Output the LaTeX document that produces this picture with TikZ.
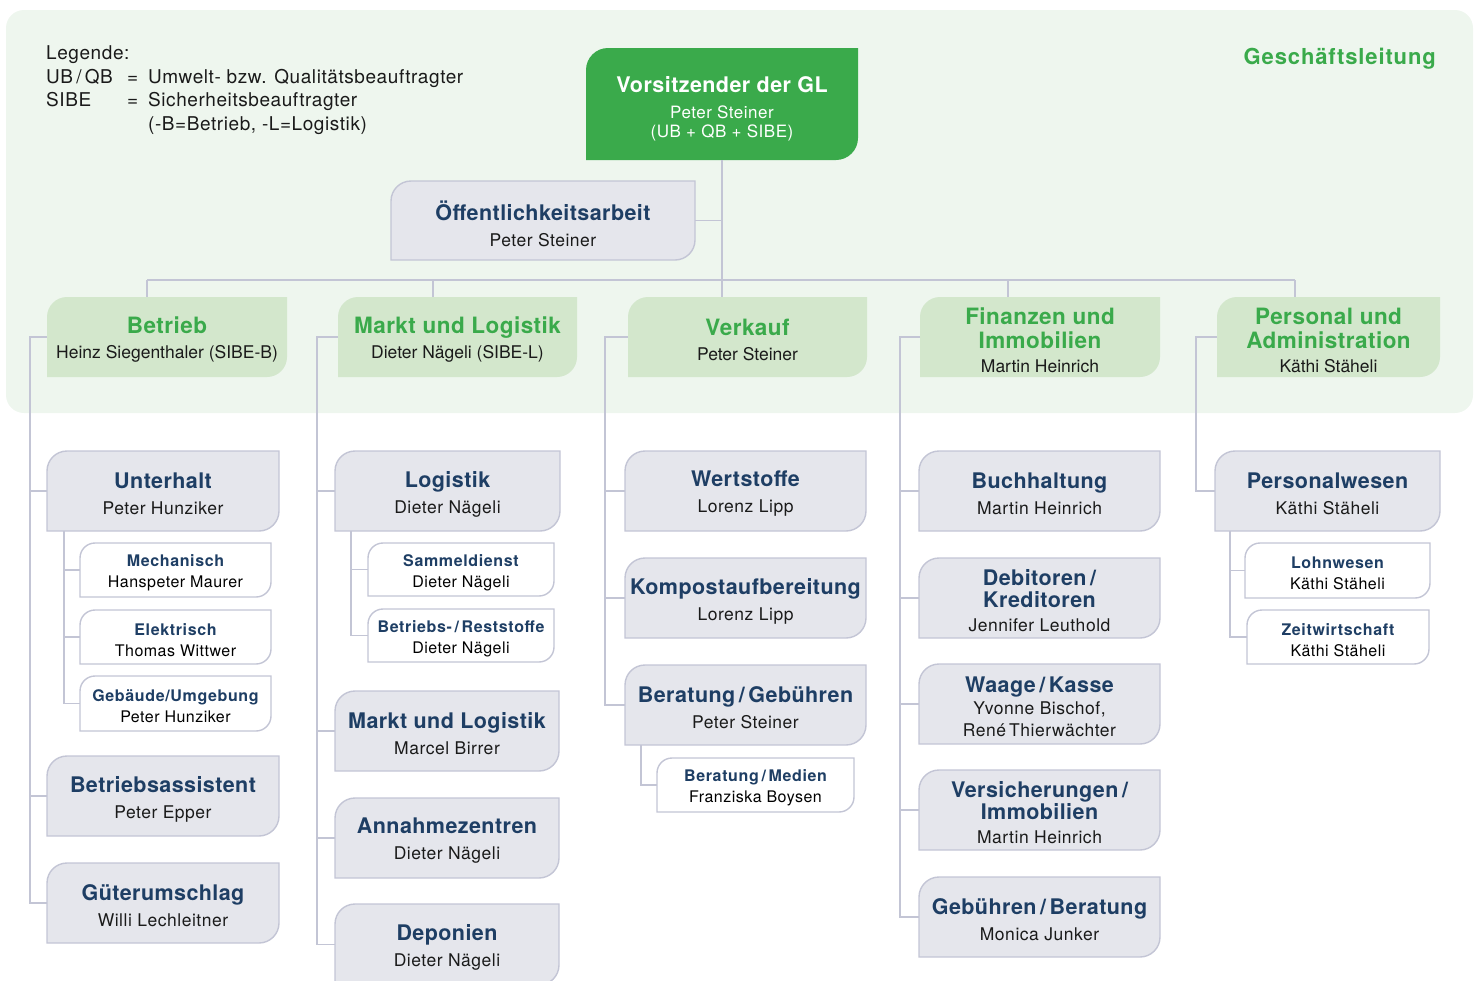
\documentclass[tikz,border=0pt]{standalone}
\usepackage{fontspec}
\setmainfont{TeX Gyre Heros}
\newfontfamily\nmf{TeX Gyre Heros}[LetterSpace=3]
\newfontfamily\ttf{TeX Gyre Heros}[LetterSpace=2]
\newfontfamily\stf{TeX Gyre Heros}[LetterSpace=4]
\definecolor{bgG}{HTML}{EEF6EE}
\definecolor{topG}{HTML}{3AAA4B}
\definecolor{deptF}{HTML}{D3E7CC}
\definecolor{grayF}{HTML}{E5E6EC}
\definecolor{lineC}{HTML}{C3C5D5}
\definecolor{tblue}{HTML}{1E3E64}
\definecolor{nameC}{HTML}{1A1A1A}
\pgfdeclarelayer{back}
\pgfdeclarelayer{bg}
\pgfsetlayers{back,bg,main}
\newcommand\BT[1]{{\ttf\bfseries\fontsize{21.5}{23}\selectfont\color{tblue}#1}}
\newcommand\NM[1]{{\nmf\color{nameC}#1}}
\newcommand\ST[1]{{\stf\bfseries\fontsize{16}{21}\selectfont\color{tblue}#1}}
\newcommand\DT[1]{{\ttf\bfseries\fontsize{22.5}{24}\selectfont\color{topG}#1}}
\newcommand\DN[1]{{\color{nameC}#1}}
\tikzset{
  conn/.style={draw=lineC, line width=1.8pt},
  boxtext/.style={inner sep=0pt, outer sep=0pt, align=center},
  gray shape/.style={fill=grayF, draw=lineC, line width=1.4pt},
  gray text/.style={boxtext, yshift=-3pt, font=\fontsize{17.5}{23}\selectfont},
  sub shape/.style={fill=white, draw=lineC, line width=1.4pt},
  sub text/.style={boxtext, yshift=-3pt, font=\nmf\fontsize{16}{21}\selectfont},
  dept shape/.style={fill=deptF},
  dept text/.style={boxtext, yshift=-3pt, font=\fontsize{17.5}{24}\selectfont},
  top shape/.style={fill=topG},
  top text/.style={boxtext, yshift=-5pt, text=white, font=\nmf\fontsize{17}{19}\selectfont},
}
% #1 type, #2 name, #3 x1, #4 y1, #5 x2, #6 y2, #7 radius, #8 text
\newcommand\obox[8]{%
  \node[inner sep=0pt, outer sep=0pt, minimum width={(#5-#3)*1pt}, minimum height={(#6-#4)*1pt}] (#2) at ({(#3+#5)/2},{(#4+#6)/2}) {};
  \node[#1 text] (#2-t) at (#2.center) {#8};
  \begin{pgfonlayer}{bg}
  \path[#1 shape] (#2.south west) -- ([yshift=-#7pt]#2.north west)
     .. controls ([yshift={-0.448*#7pt}]#2.north west) and ([xshift={0.448*#7pt}]#2.north west) .. ([xshift=#7pt]#2.north west)
     -- (#2.north east) -- ([yshift=#7pt]#2.south east)
     .. controls ([yshift={0.448*#7pt}]#2.south east) and ([xshift={-0.448*#7pt}]#2.south east) .. ([xshift=-#7pt]#2.south east)
     -- cycle;
  \end{pgfonlayer}}
\begin{document}
\begin{tikzpicture}[x=1pt, y=-1pt]
\useasboundingbox (0,0) rectangle (1477,980);
\begin{pgfonlayer}{back}
  \fill[bgG, rounded corners=18pt] (6,10) rectangle (1473,413);
\end{pgfonlayer}

% legend and heading
\node[anchor=north west, inner sep=0pt, font=\nmf\fontsize{19}{23.5}\selectfont, text=nameC] (legend) at (46,43)
 {\begin{tabular}{@{}p{81pt}@{}p{21pt}@{}l@{}}
  \multicolumn{3}{@{}l@{}}{Legende:}\\
  UB\,/\,QB & = & Umwelt- bzw. Qualitätsbeauftragter\\
  SIBE & = & Sicherheitsbeauftragter\\
   & & (-B=Betrieb, -L=Logistik)
  \end{tabular}};
\node[anchor=base east, inner sep=0pt, text=topG, font=\stf\bfseries\fontsize{22}{24}\selectfont] (gl) at (1436,64) {Geschäftsleitung};

% top
\obox{top}{top}{586}{48}{858}{160}{22}{{\ttf\bfseries\fontsize{21.5}{23}\selectfont Vorsitzender der GL}\\[7pt]Peter Steiner\\(UB + QB + SIBE)}
\obox{gray}{oeff}{391}{181}{695}{260}{20}{\BT{Öffentlichkeitsarbeit}\\[3pt]\NM{Peter Steiner}}

% departments
\obox{dept}{betrieb}{47}{297}{287}{377}{20}{\DT{Betrieb}\\[1pt]\DN{Heinz Siegenthaler (SIBE-B)}}
\obox{dept}{markt}{338}{297}{577}{377}{20}{\DT{Markt und Logistik}\\[1pt]\DN{Dieter Nägeli (SIBE-L)}}
\obox{dept}{verkauf}{628}{297}{867}{377}{20}{\DT{Verkauf}\\[1pt]\DN{Peter Steiner}}
\obox{dept}{finanzen}{920}{297}{1160}{377}{20}{\DT{Finanzen und}\\\DT{Immobilien}\\\DN{Martin Heinrich}}
\obox{dept}{personal}{1217}{297}{1440}{377}{20}{\DT{Personal und}\\\DT{Administration}\\\DN{Käthi Stäheli}}

% column 1
\obox{gray}{unterhalt}{47}{451}{279}{531}{20}{\BT{Unterhalt}\\[3pt]\NM{Peter Hunziker}}
\obox{sub}{mech}{80}{543}{271}{597}{15}{\ST{Mechanisch}\\Hanspeter Maurer}
\obox{sub}{elek}{80}{610}{271}{664}{15}{\ST{Elektrisch}\\Thomas Wittwer}
\obox{sub}{geb}{80}{676}{271}{731}{15}{\ST{Gebäude/Umgebung}\\Peter Hunziker}
\obox{gray}{assist}{47}{756}{279}{836}{20}{\BT{Betriebsassistent}\\[3pt]\NM{Peter Epper}}
\obox{gray}{gueter}{47}{863}{279}{943}{20}{\BT{Güterumschlag}\\[3pt]\NM{Willi Lechleitner}}

% column 2
\obox{gray}{logistik}{335}{451}{560}{531}{20}{\BT{Logistik}\\[3pt]\NM{Dieter Nägeli}}
\obox{sub}{sammel}{368}{543}{554}{596}{15}{\ST{Sammeldienst}\\Dieter Nägeli}
\obox{sub}{rest}{368}{609}{554}{662}{15}{\ST{Betriebs-\,/\,Reststoffe}\\Dieter Nägeli}
\obox{gray}{mul}{335}{691}{559}{771}{20}{\BT{Markt und Logistik}\\[3pt]\NM{Marcel Birrer}}
\obox{gray}{annahme}{335}{798}{559}{878}{20}{\BT{Annahmezentren}\\[3pt]\NM{Dieter Nägeli}}
\obox{gray}{deponien}{335}{904}{559}{985}{20}{\BT{Deponien}\\[3pt]\NM{Dieter Nägeli}}

% column 3
\obox{gray}{wert}{625}{451}{866}{531}{20}{\BT{Wertstoffe}\\[3pt]\NM{Lorenz Lipp}}
\obox{gray}{kompost}{625}{558}{866}{638}{20}{\BT{Kompostaufbereitung}\\[3pt]\NM{Lorenz Lipp}}
\obox{gray}{berat}{625}{665}{866}{745}{20}{\BT{Beratung\,/\,Gebühren}\\[3pt]\NM{Peter Steiner}}
\obox{sub}{medien}{657}{758}{854}{812}{15}{\ST{Beratung\,/\,Medien}\\Franziska Boysen}

% column 4
\obox{gray}{buch}{919}{451}{1160}{531}{20}{\BT{Buchhaltung}\\[3pt]\NM{Martin Heinrich}}
\obox{gray}{debit}{919}{558}{1160}{638}{20}{\BT{Debitoren\,/}\\[-1pt]\BT{Kreditoren}\\[1pt]\NM{Jennifer Leuthold}}
\obox{gray}{waage}{919}{664}{1160}{744}{20}{\BT{Waage\,/\,Kasse}\\[-1pt]\NM{Yvonne Bischof,}\\[-1pt]\NM{René\,Thierwächter}}
\obox{gray}{versich}{919}{770}{1160}{850}{20}{\BT{Versicherungen\,/}\\[-1pt]\BT{Immobilien}\\[1pt]\NM{Martin Heinrich}}
\obox{gray}{gebber}{919}{877}{1160}{957}{20}{\BT{Gebühren\,/\,Beratung}\\[3pt]\NM{Monica Junker}}

% column 5
\obox{gray}{pw}{1215}{451}{1440}{531}{20}{\BT{Personalwesen}\\[3pt]\NM{Käthi Stäheli}}
\obox{sub}{lohn}{1245}{543}{1430}{598}{15}{\ST{Lohnwesen}\\Käthi Stäheli}
\obox{sub}{zeit}{1247}{610}{1429}{664}{15}{\ST{Zeitwirtschaft}\\Käthi Stäheli}

% connectors: top level
\draw[conn] (top.south) -- (top.south |- verkauf.north);
\draw[conn] (oeff.east) -- (oeff.east -| top.south);
\coordinate (busL) at (147,280);
\coordinate (busR) at (1295,280);
\coordinate (d2) at (433,280);
\coordinate (d4) at (1008,280);
\draw[conn] (busL) -- (busR);
\draw[conn] (busL) -- (busL |- betrieb.north);
\draw[conn] (d2) -- (d2 |- markt.north);
\draw[conn] (d4) -- (d4 |- finanzen.north);
\draw[conn] (busR) -- (busR |- personal.north);

% spines
\coordinate (s1) at (30,0);
\coordinate (s2) at (317,0);
\coordinate (s3) at (605,0);
\coordinate (s4) at (900,0);
\coordinate (s5) at (1196,0);
\draw[conn] (betrieb.west) -- (betrieb.west -| s1) -- (s1 |- gueter.west) -- (gueter.west);
\draw[conn] (s1 |- unterhalt.west) -- (unterhalt.west);
\draw[conn] (s1 |- assist.west) -- (assist.west);
\draw[conn] (markt.west) -- (markt.west -| s2) -- (s2 |- deponien.west) -- (deponien.west);
\draw[conn] (s2 |- logistik.west) -- (logistik.west);
\draw[conn] (s2 |- mul.west) -- (mul.west);
\draw[conn] (s2 |- annahme.west) -- (annahme.west);
\draw[conn] (verkauf.west) -- (verkauf.west -| s3) -- (s3 |- berat.west) -- (berat.west);
\draw[conn] (s3 |- wert.west) -- (wert.west);
\draw[conn] (s3 |- kompost.west) -- (kompost.west);
\draw[conn] (finanzen.west) -- (finanzen.west -| s4) -- (s4 |- gebber.west) -- (gebber.west);
\draw[conn] (s4 |- buch.west) -- (buch.west);
\draw[conn] (s4 |- debit.west) -- (debit.west);
\draw[conn] (s4 |- waage.west) -- (waage.west);
\draw[conn] (s4 |- versich.west) -- (versich.west);
\draw[conn] (personal.west) -- (personal.west -| s5) -- (s5 |- pw.west) -- (pw.west);

% sub spines
\coordinate (u1) at (64,0);
\coordinate (u2) at (351,0);
\coordinate (u3) at (641,0);
\coordinate (u5) at (1230,0);
\draw[conn] (u1 |- unterhalt.south) -- (u1 |- geb.west) -- (geb.west);
\draw[conn] (u1 |- mech.west) -- (mech.west);
\draw[conn] (u1 |- elek.west) -- (elek.west);
\draw[conn] (u2 |- logistik.south) -- (u2 |- rest.west) -- (rest.west);
\draw[conn] (u2 |- sammel.west) -- (sammel.west);
\draw[conn] (u3 |- berat.south) -- (u3 |- medien.west) -- (medien.west);
\draw[conn] (u5 |- pw.south) -- (u5 |- zeit.west) -- (zeit.west);
\draw[conn] (u5 |- lohn.west) -- (lohn.west);
\end{tikzpicture}
\end{document}
